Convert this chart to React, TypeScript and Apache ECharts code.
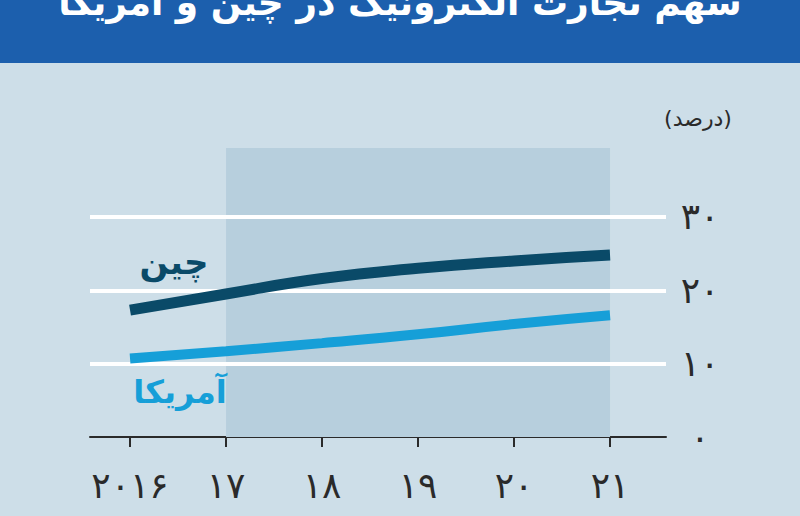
import React, { useEffect, useRef } from "react";
import * as echarts from "echarts";

const years = [2016, 2017, 2018, 2019, 2020, 2021];
const yearLabels = ["۲۰۱۶", "۱۷", "۱۸", "۱۹", "۲۰", "۲۱"];
const chinaValues = [17.3, 19.5, 21.6, 23.0, 24.0, 24.8];
const usValues = [10.7, 11.7, 12.8, 14.0, 15.4, 16.6];
const yTicks = [0, 10, 20, 30];
const yTickLabels = ["۰", "۱۰", "۲۰", "۳۰"];
const gridValues = [10, 20, 30];
const shadeRange = [2017, 2021];

const title = "سهم تجارت الکترونیک در چین و آمریکا";
const unit = "(درصد)";
const chinaName = "چین";
const usName = "آمریکا";

const FONT = "DejaVu Sans";

export default function App() {
  const ref = useRef<HTMLDivElement>(null);
  useEffect(() => {
    document.body.style.margin = "0";
    const chart = echarts.init(ref.current!, null, { renderer: "svg" });
    chart.setOption({
      animation: false,
      backgroundColor: "#cddee8",
      grid: { left: 90, right: 134, top: 148, bottom: 79 },
      xAxis: {
        type: "value",
        min: 2015.583,
        max: 2021.583,
        splitLine: { show: false },
        axisLine: { show: true, lineStyle: { color: "#2a2a2a", width: 2 } },
        axisTick: {
          show: true,
          customValues: years,
          length: 10,
          lineStyle: { color: "#2a2a2a", width: 2 },
        },
        axisLabel: {
          customValues: years,
          margin: 30,
          fontFamily: FONT,
          fontSize: 36,
          color: "#2a2a2a",
          formatter: (v: number) => yearLabels[years.indexOf(Math.round(v))] ?? "",
        },
      },
      yAxis: {
        type: "value",
        position: "right",
        min: 0,
        max: 39.4,
        splitLine: { show: false },
        axisLine: { show: false },
        axisTick: { show: false },
        axisLabel: {
          customValues: yTicks,
          margin: 34,
          align: "center",
          fontFamily: FONT,
          fontSize: 36,
          color: "#2a2a2a",
          formatter: (v: number) => yTickLabels[yTicks.indexOf(Math.round(v))] ?? "",
        },
      },
      graphic: [
        { type: "rect", shape: { x: 0, y: 0, width: 800, height: 63 }, style: { fill: "#1c5fad" }, z: 10 },
        {
          type: "text",
          x: 400,
          y: 2,
          z: 11,
          style: {
            text: title,
            fill: "#ffffff",
            font: `bold 36px "${FONT}"`,
            textAlign: "center",
            textVerticalAlign: "middle",
          },
        },
        {
          type: "text",
          x: 698,
          y: 118,
          style: {
            text: unit,
            fill: "#2a2a2a",
            font: `22px "${FONT}"`,
            textAlign: "center",
            textVerticalAlign: "middle",
          },
        },
        {
          type: "text",
          x: 174,
          y: 262,
          z: 20,
          style: {
            text: chinaName,
            fill: "#0a4a68",
            font: `bold 34px "${FONT}"`,
            textAlign: "center",
            textVerticalAlign: "middle",
          },
        },
        {
          type: "text",
          x: 180,
          y: 392,
          z: 20,
          style: {
            text: usName,
            fill: "#169fd8",
            font: `bold 32px "${FONT}"`,
            textAlign: "center",
            textVerticalAlign: "middle",
          },
        },
      ],
      series: [
        {
          type: "line",
          data: [],
          z: 1,
          markArea: {
            silent: true,
            z: 1,
            itemStyle: { color: "#b7cfdd" },
            data: [[{ xAxis: shadeRange[0] }, { xAxis: shadeRange[1] }]],
          },
        },
        {
          type: "line",
          data: [],
          z: 2,
          markLine: {
            silent: true,
            z: 2,
            symbol: "none",
            label: { show: false },
            lineStyle: { color: "#ffffff", width: 4, type: "solid" },
            data: gridValues.map((v) => ({ yAxis: v })),
          },
        },
        {
          type: "line",
          name: chinaName,
          z: 3,
          smooth: 0.5,
          symbol: "none",
          lineStyle: { color: "#0a4a68", width: 11, cap: "butt" },
          data: years.map((y, i) => [y, chinaValues[i]]),
        },
        {
          type: "line",
          name: usName,
          z: 3,
          smooth: 0.5,
          symbol: "none",
          lineStyle: { color: "#169fd8", width: 10, cap: "butt" },
          data: years.map((y, i) => [y, usValues[i]]),
        },
      ],
    });
    return () => chart.dispose();
  }, []);
  return (
    <div
      ref={ref}
      style={{ width: 800, height: 516, position: "fixed", left: 0, top: 0 }}
    />
  );
}
